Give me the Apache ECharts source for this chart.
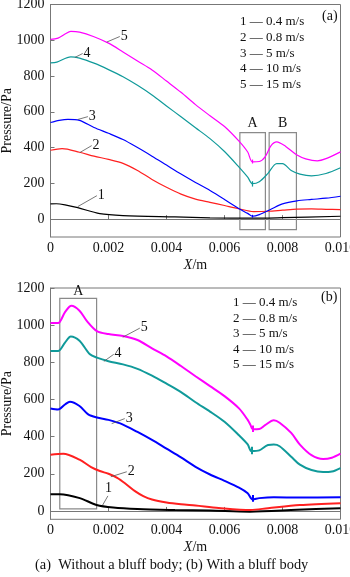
<!DOCTYPE html>
<html>
<head>
<meta charset="utf-8">
<style>html,body{margin:0;padding:0;width:350px;height:577px;background:#fff;overflow:hidden;}#chart{width:350px;height:577px;}</style>
<script src="https://cdn.jsdelivr.net/npm/echarts@6/dist/echarts.min.js"></script>
</head>
<body>
<div id="chart"></div>
<script>
// (a) without a bluff body: [X (m), pressure (Pa)]
var a1 = [[0,85],[0.0002,86],[0.0005,80],[0.00094,64],[0.0017,31],[0.0025,20],[0.00429,12],[0.0055,7],[0.00696,5],[0.008,8],[0.01,16]];
var a2 = [[0,385],[0.0004,394],[0.001,374],[0.0015,352],[0.002,334],[0.0025,312],[0.003,272],[0.0035,222],[0.004,178],[0.0045,140],[0.005,112],[0.0055,94],[0.006,76],[0.0065,58],[0.007,42],[0.0075,44],[0.008,50],[0.0085,56],[0.009,57],[0.0095,55],[0.01,53]];
var a3 = [[0,540],[0.0003,552],[0.0006,558],[0.001,552],[0.0015,512],[0.002,480],[0.0025,445],[0.003,400],[0.0035,352],[0.004,302],[0.0045,252],[0.005,205],[0.0055,160],[0.006,110],[0.0065,58],[0.0068,32],[0.00696,16],[0.0072,25],[0.0076,55],[0.008,85],[0.0085,102],[0.009,110],[0.0095,117],[0.01,128]];
var a4 = [[0,874],[0.00022,878],[0.0007,907],[0.001,900],[0.0015,872],[0.002,836],[0.0025,796],[0.003,748],[0.0035,694],[0.004,633],[0.0045,572],[0.005,511],[0.0055,450],[0.006,378],[0.0065,291],[0.0068,235],[0.00696,198],[0.0072,209],[0.0075,256],[0.0078,310],[0.008,310],[0.0083,272],[0.0086,252],[0.009,242],[0.0095,255],[0.01,287]];
var a5 = [[0,1005],[0.00026,1012],[0.0005,1035],[0.0007,1050],[0.001,1046],[0.0015,1020],[0.002,984],[0.0025,935],[0.003,884],[0.0035,834],[0.004,772],[0.0045,709],[0.005,640],[0.0055,578],[0.006,518],[0.0065,436],[0.0068,375],[0.00696,320],[0.0072,322],[0.0074,348],[0.0076,410],[0.0078,432],[0.0081,408],[0.0085,358],[0.0088,337],[0.0092,326],[0.0095,338],[0.01,376]];

// (b) with a bluff body
var b1 = [[0,90],[0.00032,90],[0.00101,69],[0.00159,32],[0.00216,18],[0.003,10],[0.00429,5],[0.0055,2],[0.00687,-4],[0.0085,6],[0.01,15]];
var b2 = [[0,303],[0.00044,308],[0.001,276],[0.0014,236],[0.0017,215],[0.002,200],[0.0023,178],[0.0026,145],[0.0029,108],[0.0032,80],[0.0035,62],[0.004,46],[0.0045,36],[0.005,29],[0.0058,16],[0.0069,5],[0.0075,15],[0.0086,32],[0.01,42]];
var b3 = [[0,551],[0.00026,546],[0.0005,573],[0.00067,588],[0.001,565],[0.0013,520],[0.0016,503],[0.002,490],[0.0025,465],[0.003,425],[0.0035,382],[0.004,335],[0.0045,288],[0.005,237],[0.0055,196],[0.006,162],[0.0065,125],[0.0068,95],[0.00697,62],[0.0072,69],[0.0077,74],[0.0086,72],[0.01,74]];
var b4 = [[0,861],[0.00026,861],[0.0005,906],[0.0007,939],[0.001,916],[0.00136,843],[0.0016,825],[0.002,806],[0.0025,789],[0.003,765],[0.0035,728],[0.004,685],[0.0045,640],[0.005,585],[0.0055,535],[0.006,480],[0.0065,407],[0.0068,358],[0.00693,322],[0.0072,326],[0.0075,355],[0.0077,357],[0.0079,348],[0.0083,292],[0.0086,249],[0.009,220],[0.0094,209],[0.0097,212],[0.01,231]];
var b5 = [[0,1011],[0.00026,1011],[0.0005,1070],[0.00072,1104],[0.001,1078],[0.00125,1023],[0.0016,968],[0.002,952],[0.0025,942],[0.003,920],[0.0035,875],[0.004,832],[0.0045,780],[0.005,725],[0.0055,672],[0.006,618],[0.0065,552],[0.0068,490],[0.0069,462],[0.00697,440],[0.0072,441],[0.0074,462],[0.0077,488],[0.0079,475],[0.0083,420],[0.0086,357],[0.009,300],[0.0094,279],[0.0097,286],[0.01,308]];

var yTicks = [0, 200, 400, 600, 800, 1000, 1200];
var legendLines = ['1 \u2014 0.4 m/s', '2 \u2014 0.8 m/s', '3 \u2014 5 m/s', '4 \u2014 10 m/s', '5 \u2014 15 m/s'];
var colors = ['#000000', '#ff2020', '#0000ff', '#109a9a', '#ff00ff'];

// leader lines: [from, to] in data units, label = curve number
var leadersA = [[[0.00094,70],[0.0016,131]], [[0.00101,372],[0.00142,411]], [[0.00094,557],[0.00129,573]], [[0.00084,904],[0.00111,926]], [[0.00194,990],[0.00239,1021]]];
var leadersB = [[[0.0018,32],[0.00198,81]], [[0.00208,184],[0.00263,211]], [[0.00211,470],[0.00256,497]], [[0.00184,805],[0.00218,843]], [[0.00249,935],[0.00308,984]]];

// short vertical jump marks at the step near X = 0.007: [x, yLow, yHigh], null = none
var jumpsA = [null, null, [0.00696, 8, 24], [0.00696, 182, 212], [0.00696, 311, 333]];
var jumpsB = [null, null, [0.00697, 50, 86], [0.00693, 305, 345], [0.00697, 425, 460]];

// boxes: [x0, y0, x1, y1, label]
var boxesA = [[0.00653,-59,0.00741,484,'A'], [0.00754,-59,0.00848,484,'B']];
var boxesB = [[0.00032,11,0.00159,1144,'A']];

var FONT = '"Liberation Serif", "Times New Roman", serif';

function xAxisOf(gi) {
  return {
    gridIndex: gi, type: 'value', min: 0, max: 0.01, interval: 0.002,
    name: '{i|X}/m', nameLocation: 'middle', nameGap: 28,
    nameTextStyle: { fontFamily: FONT, fontSize: 14, color: '#111', verticalAlign: 'middle',
      rich: { i: { fontFamily: FONT, fontSize: 14, fontStyle: 'italic', color: '#111' } } },
    axisLine: { lineStyle: { color: '#777', width: 1 } },
    axisTick: { inside: true, length: 4, lineStyle: { color: '#777' } },
    axisLabel: { fontFamily: FONT, fontSize: 14, color: '#111', margin: 4,
      formatter: function (v) { return v === 0 ? '0' : v.toFixed(3); } },
    splitLine: { show: false }
  };
}
function yAxisOf(gi, min) {
  return {
    gridIndex: gi, type: 'value', min: min, max: 1200,
    name: 'Pressure/Pa', nameLocation: 'middle', nameGap: 36, nameMoveOverlap: false,
    nameTextStyle: { fontFamily: FONT, fontSize: 14, color: '#111' },
    axisLine: { lineStyle: { color: '#777', width: 1 } },
    axisTick: { inside: true, length: 4, customValues: yTicks, lineStyle: { color: '#777' } },
    axisLabel: { fontFamily: FONT, fontSize: 14, color: '#111', margin: 6, customValues: yTicks,
      formatter: function (v) { return String(v); } },
    splitLine: { show: false }
  };
}
function lineSeries(data, idx, gi, width, leaders, jumps) {
  var l = leaders[idx];
  var marks = [[{ coord: l[0] }, { coord: l[1] }]];
  var j = jumps[idx];
  if (j) {
    marks.push([
      { coord: [j[0], j[1]], label: { show: false }, lineStyle: { color: colors[idx], width: width } },
      { coord: [j[0], j[2]], label: { show: false } }
    ]);
  }
  return {
    type: 'line', data: data, xAxisIndex: gi, yAxisIndex: gi,
    showSymbol: false, symbol: 'none', smooth: 0.3,
    lineStyle: { color: colors[idx], width: width }, itemStyle: { color: colors[idx] },
    z: 3,
    markLine: {
      silent: true, symbol: 'none',
      lineStyle: { color: '#555', width: 0.8, type: 'solid' },
      label: { show: true, position: 'end', distance: 1, formatter: String(idx + 1),
        fontFamily: FONT, fontSize: 14, color: '#111' },
      data: marks
    }
  };
}
function boxSeries(boxes, gi, dist) {
  return {
    type: 'line', data: [], xAxisIndex: gi, yAxisIndex: gi,
    markArea: {
      silent: true,
      itemStyle: { color: 'rgba(0,0,0,0)', borderColor: '#8a8a8a', borderWidth: 1.2 },
      label: { show: true, position: 'top', distance: dist, fontFamily: FONT, fontSize: 14, color: '#111' },
      data: boxes.map(function (b) {
        return [{ coord: [b[0], b[1]], name: b[4] }, { coord: [b[2], b[3]] }];
      })
    }
  };
}

var seriesA = [a1, a2, a3, a4, a5].map(function (d, i) { return lineSeries(d, i, 0, 1.2, leadersA, jumpsA); });
var seriesB = [b1, b2, b3, b4, b5].map(function (d, i) { return lineSeries(d, i, 1, 2, leadersB, jumpsB); });

function legendGraphic(x, y0) {
  return legendLines.map(function (t, i) {
    return { type: 'text', left: x, top: y0 + i * 15.6,
      style: { text: t, font: '13px ' + FONT, fill: '#111' } };
  });
}

var graphics = []
  .concat(legendGraphic(240, 15.5))
  .concat(legendGraphic(233, 296))
  .concat([
    { type: 'text', left: 322, top: 9, style: { text: '(a)', font: '14px ' + FONT, fill: '#111' } },
    { type: 'text', left: 321, top: 290, style: { text: '(b)', font: '14px ' + FONT, fill: '#111' } },
    { type: 'text', left: 35, top: 558, style: { text: '(a)  Without a bluff body; (b) With a bluff body', font: '14.4px ' + FONT, fill: '#111' } }
  ]);

var chart = echarts.init(document.getElementById('chart'), null, { renderer: 'canvas' });
chart.setOption({
  animation: false,
  backgroundColor: '#fff',
  grid: [
    { left: 50.5, top: 4.5, width: 290, height: 232.5, show: true, borderColor: '#777', borderWidth: 1, outerBoundsMode: 'none', containLabel: false },
    { left: 50.5, top: 288, width: 290, height: 231.3, show: true, borderColor: '#777', borderWidth: 1, outerBoundsMode: 'none', containLabel: false }
  ],
  xAxis: [xAxisOf(0), xAxisOf(1)],
  yAxis: [yAxisOf(0, -100), yAxisOf(1, -45)],
  series: seriesA.concat(seriesB).concat([boxSeries(boxesA, 0, 2), boxSeries(boxesB, 1, -1)]),
  graphic: graphics
});
</script>
</body>
</html>
